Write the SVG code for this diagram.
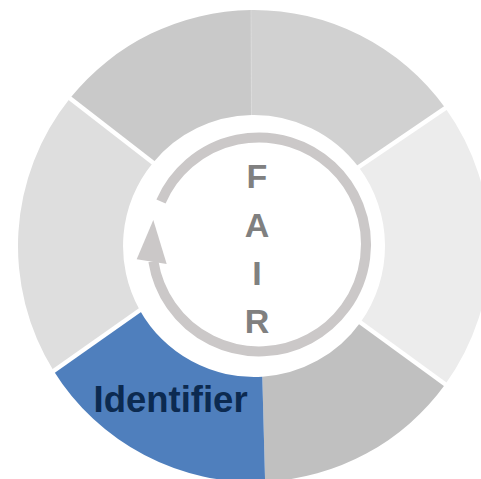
<svg xmlns="http://www.w3.org/2000/svg" width="481" height="479" viewBox="0 0 481 479">
  <defs>
    <style>
      .seg { stroke: none; }
      .gap { stroke: #ffffff; stroke-width: 4.5; fill: none; }
      .fair { font-family: "Liberation Sans", Arial, sans-serif; font-weight: bold; font-size: 34px; fill: #808080; text-anchor: middle; }
      .label { font-family: "Liberation Sans", Arial, sans-serif; font-weight: bold; font-size: 36.5px; fill: #0c2a50; }
      .ring { fill: none; stroke: #cbc8c8; stroke-width: 10; }
    </style>
  </defs>
  <rect width="481" height="479" fill="#ffffff"/>

  <g id="seg-top-left">
    <path class="seg" fill="#c9c9c9" d="M70,98.3 A236,236 0 0 1 251,10 L251.5,115 A131,131 0 0 0 153,162.7 Z"/>
  </g>
  <g id="seg-top-right">
    <path class="seg" fill="#d1d1d1" d="M251,10 A236,236 0 0 1 445.3,108.1 L358.6,167.1 A131,131 0 0 0 251.5,115 Z"/>
  </g>
  <g id="seg-right">
    <path class="seg" fill="#ececec" d="M445.3,108.1 A236,236 0 0 1 445.3,384.3 L360.4,322.4 A131,131 0 0 0 358.6,167.1 Z"/>
  </g>
  <g id="seg-bottom-right">
    <path class="seg" fill="#c0c0c0" d="M445.3,384.3 A236,236 0 0 1 265.1,481.7 L262.3,376.7 A131,131 0 0 0 360.4,322.4 Z"/>
  </g>
  <g id="seg-identifier">
    <path class="seg" fill="#4f7fbd" d="M265.1,481.7 A236,236 0 0 1 53.7,370.9 L139.8,310.2 A131,131 0 0 0 262.3,376.7 Z"/>
    <text class="label" x="93.5" y="412">Identifier</text>
  </g>
  <g id="seg-left">
    <path class="seg" fill="#dedede" d="M53.7,370.9 A236,236 0 0 1 70,98.3 L153,162.7 A131,131 0 0 0 139.8,310.2 Z"/>
  </g>

  <g id="separators">
    <line class="gap" x1="66" y1="95.2" x2="156" y2="165"/>
    <line class="gap" x1="449" y1="105.6" x2="355" y2="169.5"/>
    <line class="gap" x1="449" y1="387" x2="357" y2="320"/>
    <line class="gap" x1="50" y1="373.5" x2="143" y2="308"/>
    <line x1="251" y1="10" x2="251.5" y2="115" stroke="#dadada" stroke-width="0.8"/>
  </g>

  <g id="cycle-arrow">
    <path class="ring" d="M161,201.5 A107,107 0 1 1 153.35,261.4"/>
    <polygon fill="#cbc8c8" points="153.3,220 136.7,259.3 166.7,264"/>
  </g>

  <g id="fair-letters">
    <text class="fair" x="257" y="188">F</text>
    <text class="fair" x="257" y="237">A</text>
    <text class="fair" x="257" y="285">I</text>
    <text class="fair" x="257" y="333">R</text>
  </g>
</svg>
